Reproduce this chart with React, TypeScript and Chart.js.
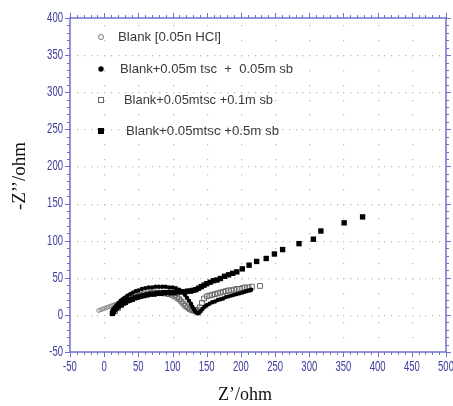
import React, { useEffect, useRef } from "react";
import { Chart, registerables } from "chart.js";

Chart.register(...registerables);

// ---- data (ohm) ----
const blankX = [-8, -5, -2, 1, 4, 7, 10, 13, 16, 19, 22, 25, 28, 31, 34, 37, 40, 44, 48, 52, 56, 60, 65, 70, 75, 80, 85, 90, 95, 100, 104, 108, 111, 114, 117, 120, 123, 126, 129, 132, 135, 138, 140];
const blankY = [6, 7, 8, 9, 10, 11, 12, 13, 14, 15, 16, 17, 18, 19, 20, 21, 22, 24, 25, 26, 27, 28, 29, 30, 30, 30, 30, 30, 29, 28, 26, 23, 20, 17, 14, 11, 8, 6, 5, 4, 4, 5, 7];

const sb005X = [12, 14, 16, 18, 21, 24, 27, 30, 34, 38, 42, 46, 50, 55, 60, 65, 70, 75, 80, 85, 90, 95, 100, 105, 110, 114, 118, 121, 124, 127, 129, 131, 133, 135, 137, 139, 141, 144, 147, 150, 154, 158, 162, 166, 170, 174, 178, 182, 186, 190, 194, 198, 202, 205, 208, 211, 213, 215];
const sb005Y = [4, 7, 10, 13, 16, 19, 21, 23, 26, 28, 30, 32, 33, 35, 36, 37, 37, 38, 38, 38, 38, 37, 37, 36, 34, 31, 27, 23, 19, 15, 11, 8, 5, 3, 2, 3, 5, 8, 11, 13, 15, 17, 18, 20, 21, 22, 24, 25, 26, 27, 28, 29, 30, 31, 32, 33, 33, 34];

const sb01X = [16, 20, 25, 30, 35, 40, 46, 52, 58, 64, 70, 76, 82, 88, 94, 99, 103, 107, 110, 113, 116, 119, 122, 125, 128, 131, 134, 137, 140, 143, 146, 150, 154, 158, 162, 166, 170, 174, 178, 182, 186, 190, 194, 198, 202, 206, 211, 216, 228];
const sb01Y = [5, 9, 13, 17, 20, 22, 25, 27, 28, 29, 30, 30, 30, 29, 28, 27, 25, 23, 21, 18, 15, 12, 10, 8, 7, 6, 6, 7, 10, 16, 22, 25, 26, 27, 28, 29, 30, 31, 32, 33, 33, 34, 35, 35, 36, 37, 37, 38, 39];

const sb05X = [12, 13, 14, 16, 18, 20, 22, 25, 28, 31, 34, 37, 41, 45, 49, 53, 58, 63, 68, 73, 78, 83, 88, 93, 98, 103, 108, 113, 118, 122, 126, 130, 134, 138, 142, 146, 150, 155, 160, 165, 170, 176, 182, 188, 194, 202, 212, 223, 237, 249, 261, 285, 306, 317, 351, 378];
const sb05Y = [2, 4, 6, 8, 10, 11, 13, 14, 16, 17, 19, 20, 21, 23, 24, 25, 26, 27, 28, 28, 29, 29, 30, 30, 30, 30, 31, 31, 31, 32, 32, 33, 34, 36, 38, 40, 42, 44, 46, 47, 49, 52, 54, 56, 58, 62, 67, 72, 76, 82, 88, 96, 102, 113, 124, 132];

const seriesLabels = [
  "Blank [0.05n HCl]",
  "Blank+0.05m tsc  +  0.05m sb",
  "Blank+0.05mtsc +0.1m sb",
  "Blank+0.05mtsc +0.5m sb",
];

const xTickLabels = [-50, 0, 50, 100, 150, 200, 250, 300, 350, 400, 450, 500];
const yTickLabels = [-50, 0, 50, 100, 150, 200, 250, 300, 350, 400];
const MINOR_STEP = 10;
const xTitle = "Z\u2019/ohm";
const yTitle = "-Z\u2019\u2019/ohm";

const toPts = (xs: number[], ys: number[]) => xs.map((x, i) => ({ x, y: ys[i] }));

const AXIS_COLOR = "#7070cc";
const LABEL_COLOR = "#3c3c9e";
const GRID_COLOR = "#bcc496";

function scaledText(ctx: CanvasRenderingContext2D, text: string, x: number, y: number, align: CanvasTextAlign, sx: number) {
  ctx.save();
  ctx.translate(x, y);
  ctx.scale(sx, 1);
  ctx.textAlign = align;
  ctx.fillText(text, 0, 0);
  ctx.restore();
}

const axesPlugin = {
  id: "customAxes",
  beforeDatasetsDraw(chart: any) {
    const ctx = chart.ctx as CanvasRenderingContext2D;
    const xs = chart.scales.x;
    const ys = chart.scales.y;
    const { left, right, top, bottom } = chart.chartArea;
    ctx.save();
    ctx.fillStyle = GRID_COLOR;
    for (const v of yTickLabels) {
      const py = Math.round(ys.getPixelForValue(v));
      if (py <= top + 1 || py >= bottom - 1) continue;
      for (let xv = xTickLabels[0] + MINOR_STEP; xv < xTickLabels[xTickLabels.length - 1]; xv += MINOR_STEP) {
        ctx.fillRect(Math.round(xs.getPixelForValue(xv)), py, 1.3, 1.3);
      }
    }
    for (const v of xTickLabels) {
      const px = Math.round(xs.getPixelForValue(v));
      if (px <= left + 1 || px >= right - 1) continue;
      for (let yv = yTickLabels[0] + 20; yv < yTickLabels[yTickLabels.length - 1]; yv += 20) {
        ctx.fillRect(px, Math.round(ys.getPixelForValue(yv)), 1.3, 1.3);
      }
    }
    ctx.restore();
  },
  afterDraw(chart: any) {
    const ctx = chart.ctx as CanvasRenderingContext2D;
    const xs = chart.scales.x;
    const ys = chart.scales.y;
    const { left, right, top, bottom } = chart.chartArea;
    ctx.save();
    ctx.strokeStyle = AXIS_COLOR;
    ctx.lineWidth = 1.5;
    ctx.strokeRect(left, top, right - left, bottom - top);
    ctx.lineWidth = 1;
    const xmin = xTickLabels[0], xmax = xTickLabels[xTickLabels.length - 1];
    const ymin = yTickLabels[0], ymax = yTickLabels[yTickLabels.length - 1];
    ctx.beginPath();
    for (let v = xmin; v <= xmax; v += MINOR_STEP) {
      const major = v % 50 === 0;
      const len = major ? 5 : 3;
      const px = Math.round(xs.getPixelForValue(v)) + 0.5;
      ctx.moveTo(px, bottom); ctx.lineTo(px, bottom + len);
      ctx.moveTo(px, top); ctx.lineTo(px, top - len);
    }
    for (let v = ymin; v <= ymax; v += MINOR_STEP) {
      const major = v % 50 === 0;
      const len = major ? 5 : 3;
      const py = Math.round(ys.getPixelForValue(v)) + 0.5;
      ctx.moveTo(left, py); ctx.lineTo(left - len, py);
      ctx.moveTo(right, py); ctx.lineTo(right + len, py);
    }
    ctx.stroke();

    // tick labels
    ctx.fillStyle = LABEL_COLOR;
    ctx.font = "14px 'Liberation Sans', Arial, sans-serif";
    ctx.textBaseline = "middle";
    for (const v of xTickLabels) {
      scaledText(ctx, String(v), xs.getPixelForValue(v), bottom + 15, "center", 0.68);
    }
    for (const v of yTickLabels) {
      scaledText(ctx, String(v), left - 7, ys.getPixelForValue(v), "right", 0.68);
    }

    // axis titles
    ctx.fillStyle = "#111";
    ctx.font = "18px 'Liberation Serif', 'Times New Roman', serif";
    ctx.textAlign = "center";
    ctx.textBaseline = "middle";
    ctx.fillText(xTitle, 245, 395);
    ctx.save();
    ctx.translate(20, 176);
    ctx.rotate(-Math.PI / 2);
    ctx.font = "19px 'Liberation Serif', 'Times New Roman', serif";
    ctx.fillText(yTitle, 0, 0);
    ctx.restore();

    // legend
    const rows = [
      { y: 37, tx: 118, w: 103, kind: "oc" },
      { y: 69, tx: 120, w: 173, kind: "fc" },
      { y: 100, tx: 124, w: 149, kind: "os" },
      { y: 131, tx: 126, w: 153, kind: "fs" },
    ];
    ctx.font = "13px 'Liberation Sans', Arial, sans-serif";
    rows.forEach((r, i) => {
      const mx = 101;
      ctx.lineWidth = 1;
      if (r.kind === "oc") {
        ctx.strokeStyle = "#777";
        ctx.beginPath(); ctx.arc(mx, r.y, 2.5, 0, Math.PI * 2); ctx.stroke();
      } else if (r.kind === "fc") {
        ctx.fillStyle = "#000";
        ctx.beginPath(); ctx.arc(mx, r.y, 2.7, 0, Math.PI * 2); ctx.fill();
      } else if (r.kind === "os") {
        ctx.strokeStyle = "#666";
        ctx.strokeRect(mx - 2.5, r.y - 2.5, 5, 5);
      } else {
        ctx.fillStyle = "#000";
        ctx.fillRect(mx - 3, r.y - 3, 6, 6);
      }
      ctx.fillStyle = "#3a3a3a";
      const natural = ctx.measureText(seriesLabels[i]).width;
      scaledText(ctx, seriesLabels[i], r.tx, r.y, "left", r.w / natural);
    });
    ctx.restore();
  },
};

export default function App() {
  const ref = useRef<HTMLCanvasElement | null>(null);
  useEffect(() => {
    if (!ref.current) return;
    const chart = new Chart(ref.current, {
      type: "scatter",
      data: {
        datasets: [
          {
            label: seriesLabels[3],
            data: toPts(sb05X, sb05Y),
            pointStyle: "rect",
            pointRadius: 3.8,
            backgroundColor: "#000",
            borderColor: "#000",
            borderWidth: 0,
          },
          {
            label: seriesLabels[1],
            data: toPts(sb005X, sb005Y),
            pointStyle: "circle",
            pointRadius: 2.2,
            backgroundColor: "#000",
            borderColor: "#000",
            borderWidth: 0,
          },
          {
            label: seriesLabels[2],
            data: toPts(sb01X, sb01Y),
            pointStyle: "rect",
            pointRadius: 3.4,
            backgroundColor: "rgba(255,255,255,0)",
            borderColor: "#6a6a6a",
            borderWidth: 1,
          },
          {
            label: seriesLabels[0],
            data: toPts(blankX, blankY),
            pointStyle: "circle",
            pointRadius: 2,
            backgroundColor: "rgba(255,255,255,0)",
            borderColor: "#888",
            borderWidth: 1,
          },
        ],
      },
      options: {
        animation: false,
        responsive: false,
        devicePixelRatio: 1,
        layout: { padding: { left: 70, right: 7, top: 18, bottom: 54 } },
        scales: {
          x: { type: "linear", min: -50, max: 500, display: false },
          y: { type: "linear", min: -50, max: 400, display: false },
        },
        plugins: { legend: { display: false }, tooltip: { enabled: false } },
        events: [],
      },
      plugins: [axesPlugin],
    });
    return () => chart.destroy();
  }, []);
  return (
    <div style={{ position: "fixed", left: 0, top: 0, width: 453, height: 406, background: "#fff" }}>
      <canvas ref={ref} width={453} height={406} style={{ display: "block" }} />
    </div>
  );
}
